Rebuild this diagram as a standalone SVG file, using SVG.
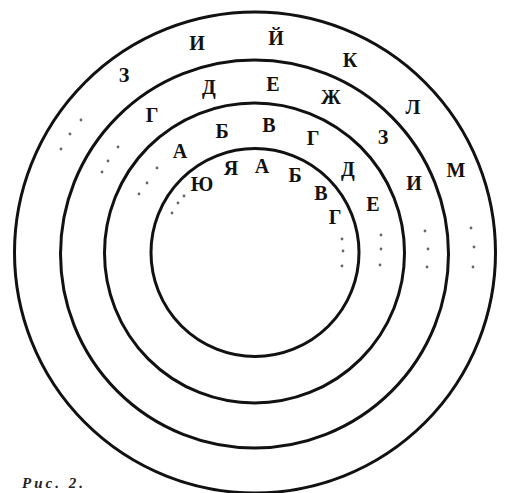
<svg xmlns="http://www.w3.org/2000/svg" width="505" height="493" viewBox="0 0 505 493">
<style>
.ring{fill:none;stroke:#111;stroke-width:3}
.l{font-family:"Liberation Serif","DejaVu Serif",serif;font-weight:bold;font-size:20px;fill:#111;text-anchor:middle}
.d{fill:#666}
.cap{font-family:"Liberation Serif","DejaVu Serif",serif;font-weight:bold;font-style:italic;font-size:15px;fill:#222;letter-spacing:3px}
</style>
<rect width="505" height="493" fill="#fff"/>
<g id="rings">
<circle id="ring4" class="ring" cx="255" cy="252.5" r="240.5"/>
<circle id="ring3" class="ring" cx="254.5" cy="254" r="194"/>
<circle id="ring2" class="ring" cx="254.5" cy="253" r="150"/>
<circle id="ring1" class="ring" cx="255" cy="252.5" r="104"/>
</g>
<g id="outer-letters">
<text class="l" x="124" y="82">З</text>
<text class="l" x="197" y="50">И</text>
<text class="l" x="276" y="45">Й</text>
<text class="l" x="350" y="67">К</text>
<text class="l" x="413" y="114">Л</text>
<text class="l" x="456" y="177">М</text>
</g>
<g id="ring3-letters">
<text class="l" x="152" y="122">Г</text>
<text class="l" x="209" y="94">Д</text>
<text class="l" x="273" y="91">Е</text>
<text class="l" x="331" y="104">Ж</text>
<text class="l" x="383" y="144">З</text>
<text class="l" x="414" y="190">И</text>
</g>
<g id="ring2-letters">
<text class="l" x="180" y="158">А</text>
<text class="l" x="222" y="138">Б</text>
<text class="l" x="269" y="132">В</text>
<text class="l" x="313" y="145">Г</text>
<text class="l" x="348" y="176">Д</text>
<text class="l" x="373" y="211">Е</text>
</g>
<g id="inner-letters">
<text class="l" x="202" y="191">Ю</text>
<text class="l" x="231" y="175">Я</text>
<text class="l" x="262" y="173">А</text>
<text class="l" x="295" y="182">Б</text>
<text class="l" x="321" y="200">В</text>
<text class="l" x="335" y="224">Г</text>
</g>
<g id="dots">
<circle class="d" cx="81" cy="120" r="1.4"/>
<circle class="d" cx="70" cy="134" r="1.4"/>
<circle class="d" cx="61" cy="149" r="1.4"/>
<circle class="d" cx="118" cy="147" r="1.4"/>
<circle class="d" cx="108" cy="161" r="1.4"/>
<circle class="d" cx="102" cy="172" r="1.4"/>
<circle class="d" cx="157" cy="168" r="1.4"/>
<circle class="d" cx="147" cy="183" r="1.4"/>
<circle class="d" cx="139" cy="194" r="1.4"/>
<circle class="d" cx="184" cy="196" r="1.4"/>
<circle class="d" cx="178" cy="203" r="1.4"/>
<circle class="d" cx="172" cy="213" r="1.4"/>
<circle class="d" cx="342" cy="239" r="1.4"/>
<circle class="d" cx="343" cy="251" r="1.4"/>
<circle class="d" cx="342" cy="266" r="1.4"/>
<circle class="d" cx="381" cy="235" r="1.4"/>
<circle class="d" cx="381" cy="249" r="1.4"/>
<circle class="d" cx="380" cy="265" r="1.4"/>
<circle class="d" cx="425" cy="231" r="1.4"/>
<circle class="d" cx="428" cy="249" r="1.4"/>
<circle class="d" cx="427" cy="267" r="1.4"/>
<circle class="d" cx="471" cy="228" r="1.4"/>
<circle class="d" cx="474" cy="247" r="1.4"/>
<circle class="d" cx="473" cy="267" r="1.4"/>
</g>
<text class="cap" x="22" y="488">Рис. 2.</text>
</svg>
